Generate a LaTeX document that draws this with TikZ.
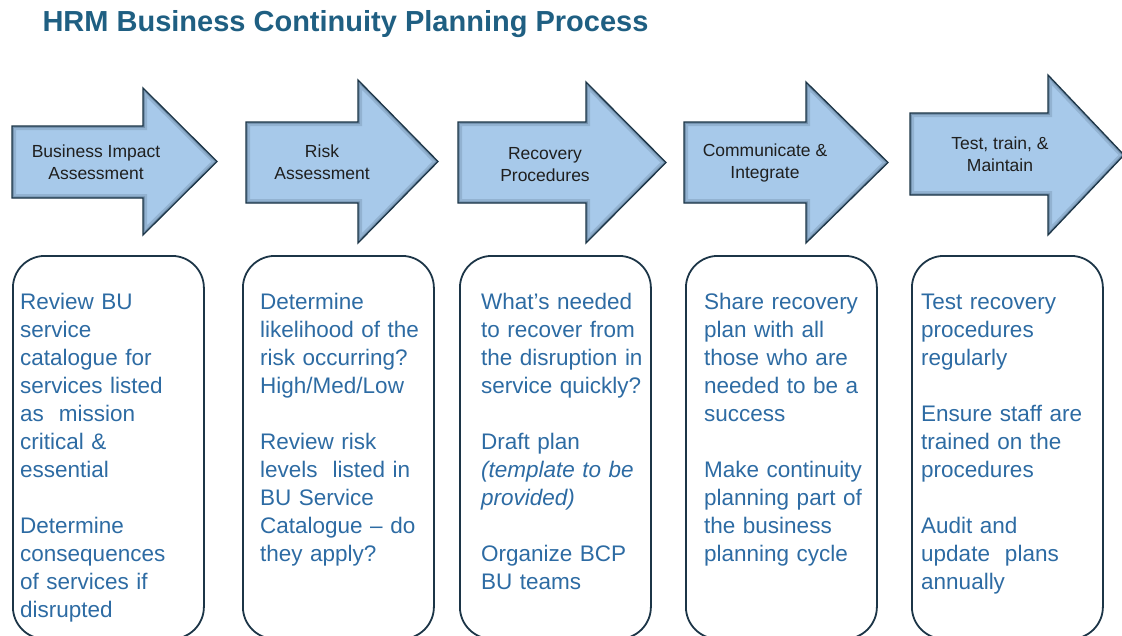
\documentclass[tikz,border=0pt]{standalone}
\usepackage{fontspec}
\setmainfont{Liberation Sans}
\usetikzlibrary{positioning}
\definecolor{hrmtitle}{HTML}{1F5F82}
\definecolor{hrmtext}{HTML}{2D6BA3}
\definecolor{stagefill}{HTML}{A7C9EA}
\definecolor{stageline}{HTML}{1C3547}

\newcommand\stagepath[7]{(#1,#5) -- (#2,#5) -- (#2,#4) -- (#3,{(#4+#7)/2}) -- (#2,#7) -- (#2,#6) -- (#1,#6) -- cycle}
\newcommand\stagearrow[7]{%
  \begin{scope}
    \clip \stagepath{#1}{#2}{#3}{#4}{#5}{#6}{#7};
    \fill[stagefill] \stagepath{#1}{#2}{#3}{#4}{#5}{#6}{#7};
    \draw[stageline, line width=8pt, opacity=.15] \stagepath{#1}{#2}{#3}{#4}{#5}{#6}{#7};
    \draw[stageline, line width=3.5pt, opacity=.25] \stagepath{#1}{#2}{#3}{#4}{#5}{#6}{#7};
  \end{scope}
  \draw[stageline, line width=1.3pt] \stagepath{#1}{#2}{#3}{#4}{#5}{#6}{#7};}

\begin{document}
\begin{tikzpicture}[x=1pt, y=-1pt,
  stagelabel/.style={align=center, text=black!88, font=\fontsize{17.5}{22}\selectfont},
  taskbox/.style={draw=stageline, line width=1.8pt, rounded corners=32pt, anchor=north west,
    inner sep=0pt, minimum width=191pt, minimum height=383pt},
  tasktext/.style={anchor=north west, inner sep=0pt, text width=185pt, align=left,
    text=hrmtext, font=\fontsize{22.5}{28}\selectfont}]
\useasboundingbox (0,0) rectangle (1122,635);
\clip (0,0) rectangle (1122,635);

\node[anchor=base west, text=hrmtitle, font=\bfseries\fontsize{29}{34}\selectfont] (title) at (39,31)
  {HRM Business Continuity Planning Process};

\stagearrow{12}{143}{217}{88}{126}{198}{235}
\stagearrow{246}{358}{438}{80}{122}{203}{243}
\stagearrow{458}{586}{666}{82}{122}{203}{243}
\stagearrow{684}{806}{888}{82}{122}{203}{243}
\stagearrow{910}{1048}{1124}{75}{113}{195}{235}

\node[stagelabel] (bia) at (96,162.5) {Business Impact\\Assessment};
\node[stagelabel] (risk) at (322,162) {Risk\\Assessment};
\node[stagelabel] (recovery) at (545,164.5) {Recovery\\Procedures};
\node[stagelabel] (communicate) at (765,162.5) {Communicate \&\\Integrate};
\node[stagelabel] (test) at (1000,154.5) {Test, train, \&\\Maintain};

\node[taskbox] (bia box) at (12,255) {};
\node[taskbox] (risk box) at (242,255) {};
\node[taskbox] (recovery box) at (459,255) {};
\node[taskbox] (communicate box) at (685,255) {};
\node[taskbox] (test box) at (911,255) {};

\node[tasktext] (bia text) at ([xshift=8pt, yshift=-34.4pt]bia box.north west)
  {\strut Review BU\\service\\catalogue for\\services listed\\as \ mission\\critical \&\\essential\\[28pt]
   Determine\\consequences\\of services if\\disrupted};
\node[tasktext] (risk text) at ([xshift=18pt, yshift=-34.4pt]risk box.north west)
  {\strut Determine\\likelihood of the\\risk occurring?\\High/Med/Low\\[28pt]
   Review risk\\levels \ listed in\\BU Service\\Catalogue -- do\\they apply?};
\node[tasktext] (recovery text) at ([xshift=22pt, yshift=-34.4pt]recovery box.north west)
  {\strut What’s needed\\to recover from\\the disruption in\\service quickly?\\[28pt]
   Draft plan\\\textit{(template to be}\\\textit{provided)}\\[28pt]
   Organize BCP\\BU teams};
\node[tasktext] (communicate text) at ([xshift=19pt, yshift=-34.4pt]communicate box.north west)
  {\strut Share recovery\\plan with all\\those who are\\needed to be a\\success\\[28pt]
   Make continuity\\planning part of\\the business\\planning cycle};
\node[tasktext] (test text) at ([xshift=10pt, yshift=-34.4pt]test box.north west)
  {\strut Test recovery\\procedures\\regularly\\[28pt]
   Ensure staff are\\trained on the\\procedures\\[28pt]
   Audit and\\update \ plans\\annually};
\end{tikzpicture}
\end{document}
